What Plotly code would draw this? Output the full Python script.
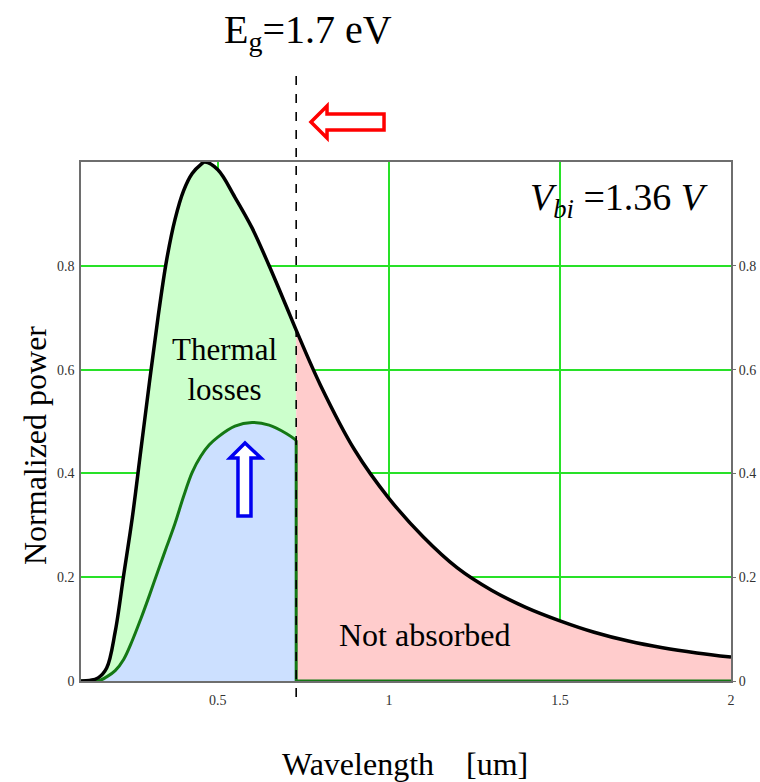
import plotly.graph_objects as go

# ---- data ----
EG_UM = 0.729  # band-gap wavelength (Eg = 1.7 eV)

wl_black = [0.100, 0.125, 0.150, 0.175, 0.200, 0.225, 0.250, 0.275, 0.300, 0.325,
            0.350, 0.375, 0.400, 0.425, 0.450, 0.462, 0.500, 0.550, 0.600, 0.650,
            0.700, 0.729, 0.800, 0.900, 1.000, 1.100, 1.200, 1.300, 1.400, 1.500,
            1.600, 1.700, 1.800, 1.900, 2.000]
p_black = [0.000, 0.001, 0.006, 0.025, 0.095, 0.205, 0.315, 0.445, 0.575, 0.700,
           0.810, 0.890, 0.945, 0.978, 0.995, 1.000, 0.985, 0.932, 0.873, 0.800,
           0.722, 0.676, 0.570, 0.445, 0.352, 0.278, 0.218, 0.175, 0.142, 0.116,
           0.094, 0.077, 0.064, 0.054, 0.046]

wl_green = [0.100, 0.150, 0.175, 0.200, 0.225, 0.250, 0.275, 0.300, 0.325, 0.350,
            0.375, 0.400, 0.425, 0.450, 0.475, 0.500, 0.550, 0.600, 0.650, 0.700,
            0.729]
p_green = [0.000, 0.000, 0.008, 0.020, 0.042, 0.078, 0.120, 0.165, 0.212, 0.258,
           0.304, 0.356, 0.402, 0.433, 0.455, 0.470, 0.491, 0.498, 0.493, 0.477,
           0.464]

x_ticks = [0.5, 1, 1.5, 2]
x_ticktext = ["0.5", "1", "1.5", "2"]
y_ticks = [0, 0.2, 0.4, 0.6, 0.8]
y_ticktext = ["0", "0.2", "0.4", "0.6", "0.8"]

# ---- styles ----
GREEN_FILL = "rgb(204,255,204)"
BLUE_FILL = "rgb(204,224,255)"
PINK_FILL = "rgb(255,204,204)"
GRID = "rgb(40,225,40)"
DARK_GREEN = "rgb(20,120,20)"
FRAME = "rgb(110,110,110)"
SERIF = "Liberation Serif"

left_x = [x for x in wl_black if x <= EG_UM]
left_y = [y for x, y in zip(wl_black, p_black) if x <= EG_UM]
right_x = [x for x in wl_black if x >= EG_UM]
right_y = [y for x, y in zip(wl_black, p_black) if x >= EG_UM]

fig = go.Figure()

# green (thermal losses) area: under black curve up to Eg
fig.add_trace(go.Scatter(x=left_x, y=left_y, mode="lines", line=dict(width=0, shape="spline"),
                         fill="tozeroy", fillcolor=GREEN_FILL, hoverinfo="skip", showlegend=False))
# blue (useful) area: under green curve
fig.add_trace(go.Scatter(x=wl_green, y=p_green, mode="lines", line=dict(width=0, shape="spline"),
                         fill="tozeroy", fillcolor=BLUE_FILL, hoverinfo="skip", showlegend=False))
# pink (not absorbed) area
fig.add_trace(go.Scatter(x=right_x, y=right_y, mode="lines", line=dict(width=0, shape="spline"),
                         fill="tozeroy", fillcolor=PINK_FILL, hoverinfo="skip", showlegend=False))

# green curve
fig.add_trace(go.Scatter(x=wl_green, y=p_green, mode="lines",
                         line=dict(color=DARK_GREEN, width=3, shape="spline"),
                         hoverinfo="skip", showlegend=False))
fig.add_trace(go.Scatter(x=[EG_UM, EG_UM, wl_black[-1]], y=[p_green[-1], 0, 0], mode="lines",
                         line=dict(color=DARK_GREEN, width=3),
                         hoverinfo="skip", showlegend=False))
# black curve
fig.add_trace(go.Scatter(x=wl_black, y=p_black, mode="lines",
                         line=dict(color="black", width=3.5, shape="spline"),
                         hoverinfo="skip", showlegend=False))
# dummy for right axis
fig.add_trace(go.Scatter(x=wl_black, y=p_black, mode="none", yaxis="y2",
                         hoverinfo="skip", showlegend=False))

# dashed band-gap line
fig.add_shape(type="line", xref="x", yref="paper", x0=EG_UM, x1=EG_UM, y0=-0.031, y1=1.168,
              line=dict(color="black", width=1.6, dash="dash"))

W, H = 760, 782
L, R, T, B = 81, 29, 162, 101
pw, ph = W - L - R, H - T - B

def px(xp):
    return (xp - L) / pw

def py(yp):
    return (H - B - yp) / ph

def path(points):
    return "M " + " L ".join(f"{px(a):.4f},{py(b):.4f}" for a, b in points) + " Z"

# red hollow arrow (pointing left)
red_pts = [(311, 122), (327, 106), (327, 114), (384, 114), (384, 130), (327, 130), (327, 138)]
fig.add_shape(type="path", xref="paper", yref="paper", path=path(red_pts),
              line=dict(color="red", width=3.5), fillcolor="white")
# blue hollow arrow (pointing up)
blue_pts = [(245, 443), (230, 458), (238, 458), (238, 516), (251, 516), (251, 458), (261, 458)]
fig.add_shape(type="path", xref="paper", yref="paper", path=path(blue_pts),
              line=dict(color="rgb(0,0,240)", width=3.5), fillcolor="white")

def note(x, y, text, size, angle=0):
    fig.add_annotation(xref="paper", yref="paper", x=px(x), y=py(y), showarrow=False,
                       xanchor="center", yanchor="middle", textangle=angle, text=text,
                       font=dict(family=SERIF, size=size, color="black"))

note(308, 32, "E<sub>g</sub>=1.7 eV", 40)
note(619, 200, "<i>V</i><sub><i>bi</i></sub> =1.36 <i>V</i>", 38)
note(224, 369, "Thermal<br>losses", 31)
note(425, 635, "Not absorbed", 32)
note(35, 446, "Normalized power", 32, angle=-90)
note(405, 764, "Wavelength\u00a0\u00a0\u00a0\u00a0[um]", 32)

tickfont = dict(family=SERIF, size=14, color="rgb(50,50,50)")
fig.update_layout(
    width=W, height=H,
    margin=dict(l=L, r=R, t=T, b=B, pad=0, autoexpand=False),
    paper_bgcolor="white", plot_bgcolor="white",
    font=dict(family=SERIF),
    xaxis=dict(range=[0.1, 2.0], tickvals=x_ticks, ticktext=x_ticktext, tickfont=tickfont,
               showgrid=True, gridcolor=GRID, gridwidth=1.5, zeroline=False, automargin=False,
               showline=True, linecolor=FRAME, linewidth=1.5, mirror=True,
               ticks="outside", ticklen=5, tickcolor="rgba(0,0,0,0)"),
    yaxis=dict(range=[0, 1.0], tickvals=y_ticks, ticktext=y_ticktext, tickfont=tickfont,
               showgrid=True, gridcolor=GRID, gridwidth=1.5, zeroline=False, automargin=False,
               showline=True, linecolor=FRAME, linewidth=1.5, mirror=True,
               ticks="", ticklabelstandoff=2),
    yaxis2=dict(range=[0, 1.0], tickvals=y_ticks, ticktext=y_ticktext, tickfont=tickfont,
                overlaying="y", side="right", showgrid=False, zeroline=False, automargin=False,
                showline=False, ticks="outside", ticklen=4, tickcolor=FRAME),
    showlegend=False,
)

fig.write_html("out.html")
